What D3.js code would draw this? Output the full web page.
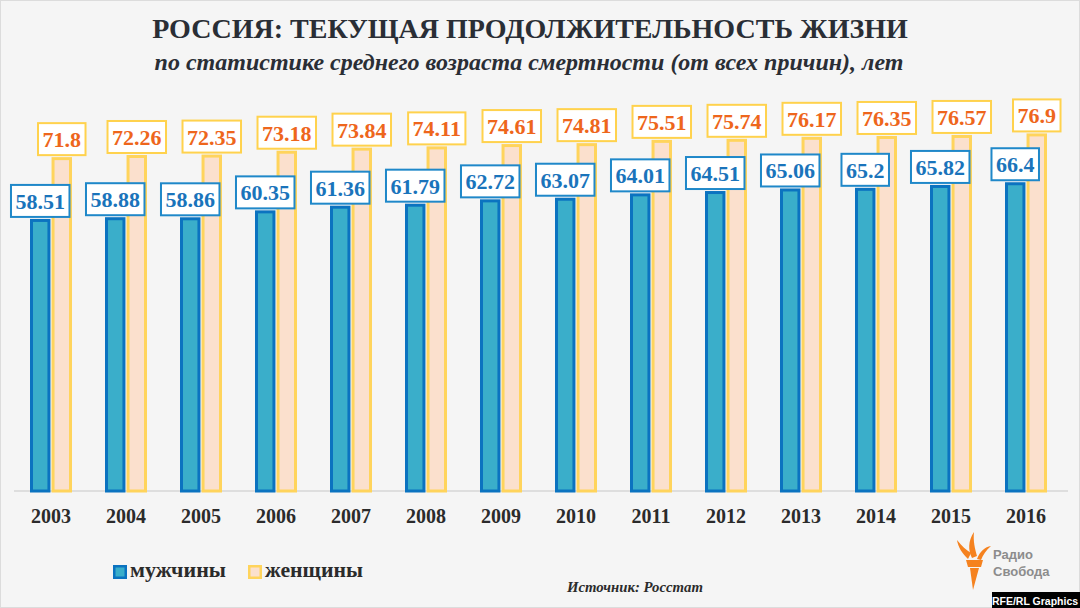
<!DOCTYPE html>
<html><head><meta charset="utf-8">
<script src="https://cdn.jsdelivr.net/npm/d3@7"></script>
<style>html,body{margin:0;padding:0;background:#f5f5f5}svg{display:block}</style>
</head><body><svg id="c" width="1080" height="608"></svg>
<script>
const years = ["2003","2004","2005","2006","2007","2008","2009","2010","2011","2012","2013","2014","2015","2016"];
const men = [58.51,58.88,58.86,60.35,61.36,61.79,62.72,63.07,64.01,64.51,65.06,65.2,65.82,66.4];
const women = [71.8,72.26,72.35,73.18,73.84,74.11,74.61,74.81,75.51,75.74,76.17,76.35,76.57,76.9];
const seriesNames = ["мужчины","женщины"];
const titleText = "РОССИЯ: ТЕКУЩАЯ ПРОДОЛЖИТЕЛЬНОСТЬ ЖИЗНИ";
const subtitleText = "по статистике среднего возраста смертности (от всех причин), лет";
const sourceText = "Источник: Росстат";

const svg = d3.select("#c");
const W = 1080, H = 608;
const serif = "'Liberation Serif','Times New Roman',serif";
const sans = "'Liberation Sans',Arial,sans-serif";
const col = {
  menFill:"#3aaeca", menStroke:"#0b73c0", menText:"#1a74bb", menBox:"#1f88c9",
  womFill:"#fbe0cd", womStroke:"#ffd45c", womText:"#ee661c", womBox:"#ffd24d"
};

function fit(sel, target, maxSize){
  const n = sel.node();
  const w = n.getComputedTextLength();
  const fs = +sel.attr("font-size");
  const nf = Math.min(maxSize, fs*target/w);
  sel.attr("font-size", nf.toFixed(2));
  return sel;
}

svg.append("rect").attr("x",0.5).attr("y",0.5).attr("width",W-1).attr("height",H-1)
  .attr("fill","#f5f5f5").attr("stroke","#dcdcdc");

// Title
fit(svg.append("text").attr("x",530).attr("y",38).attr("text-anchor","middle")
  .attr("font-family",serif).attr("font-weight","bold").attr("font-size",35)
  .attr("fill","#2a2e35").text(titleText), 756, 36);
fit(svg.append("text").attr("x",529).attr("y",70).attr("text-anchor","middle")
  .attr("font-family",serif).attr("font-weight","bold").attr("font-style","italic").attr("font-size",22)
  .attr("fill","#2a2e35").text(subtitleText), 749, 24);

// Scales
const x = d3.scaleBand().domain(years).range([13.5,1063.5]).padding(0);
const xs = d3.scaleBand().domain([0,1]).range([x.bandwidth()/2-21, x.bandwidth()/2+21]).paddingInner(0.05);
const y = d3.scaleLinear().domain([0,80]).range([491,491-80*4.65]);

// baseline
svg.append("line").attr("x1",14).attr("x2",1068).attr("y1",491).attr("y2",491)
  .attr("stroke","#dedede").attr("stroke-width",2);

const data = years.map((yr,i)=>({yr, vals:[men[i],women[i]]}));
const g = svg.selectAll("g.grp").data(data).join("g").attr("class","grp")
  .attr("transform",d=>`translate(${x(d.yr)},0)`);

const sw = 3;
g.selectAll("rect.bar").data(d=>d.vals.map((v,k)=>({v,k}))).join("rect").attr("class","bar")
  .attr("x",d=>xs(d.k)+sw/2).attr("width",xs.bandwidth()-sw)
  .attr("y",d=>y(d.v)+sw/2).attr("height",d=>y(0)-y(d.v)-sw/2)
  .attr("fill",d=>d.k===0?col.menFill:col.womFill)
  .attr("stroke",d=>d.k===0?col.menStroke:col.womStroke)
  .attr("stroke-width",sw);

// value labels
g.each(function(d){
  const gg = d3.select(this);
  d.vals.forEach((v,k)=>{
    const cx = xs(k)+xs.bandwidth()/2;
    const lg = gg.append("g");
    const t = lg.append("text").attr("x",cx).attr("y",y(v)-10)
      .attr("text-anchor","middle").attr("font-family",serif).attr("font-weight","bold")
      .attr("font-size",22).attr("fill",k===0?col.menText:col.womText).text(v);
    const bb = t.node().getBBox();
    const bw = bb.width+9, bh = 32;
    lg.insert("rect","text").attr("x",cx-bw/2).attr("y",y(v)-2-bh).attr("width",bw).attr("height",bh)
      .attr("fill","#ffffff").attr("stroke",k===0?col.menBox:col.womBox).attr("stroke-width",2);
  });
});

// x axis labels
svg.selectAll("text.yr").data(years).join("text").attr("class","yr")
  .attr("x",d=>x(d)+x.bandwidth()/2).attr("y",523).attr("text-anchor","middle")
  .attr("font-family",serif).attr("font-weight","bold").attr("font-size",20).attr("fill","#2b2b2b")
  .text(d=>d);

// legend
const legX = [113,248], legTL = [96,98];
seriesNames.forEach((s,k)=>{
  svg.append("rect").attr("x",legX[k]+1.25).attr("y",566.25).attr("width",11.5).attr("height",11.5)
    .attr("fill",k===0?col.menFill:col.womFill).attr("stroke",k===0?col.menStroke:col.womStroke)
    .attr("stroke-width",2.5);
  fit(svg.append("text").attr("x",legX[k]+17).attr("y",577).attr("font-family",serif).attr("font-weight","bold")
    .attr("font-size",22).attr("fill","#2b2b2b").text(s), legTL[k], 24);
});

// source
fit(svg.append("text").attr("x",567).attr("y",592).attr("font-family",serif).attr("font-weight","bold")
  .attr("font-style","italic").attr("font-size",16).attr("fill","#2b2b2b").text(sourceText), 136, 17);

// logo
const lg = svg.append("g").attr("fill","#f5821f");
lg.append("path").attr("d","M966,560 L983,560 L981,567 L968,567 Z");
lg.append("path").attr("d","M970,568 L979,568 L973,590 Z");
lg.append("path").attr("d","M968,559 C962,553 958,547 957,540 C962,546 966,550 971,553 Z");
lg.append("path").attr("d","M972,558 C968,550 968,541 974,532 C973,541 975,549 977,556 Z");
lg.append("path").attr("d","M977,559 C980,551 985,547 991,546 C986,550 983,555 981,560 Z");
svg.append("text").attr("x",993).attr("y",559).attr("font-family",sans).attr("font-weight","bold")
  .attr("font-size",13).attr("fill","#8c8c8c").text("Радио");
svg.append("text").attr("x",993).attr("y",576).attr("font-family",sans).attr("font-weight","bold")
  .attr("font-size",13).attr("fill","#8c8c8c").text("Свобода");
svg.append("rect").attr("x",992).attr("y",592).attr("width",88).attr("height",16).attr("fill","#000");
svg.append("text").attr("x",1035).attr("y",604.5).attr("text-anchor","middle").attr("font-family",sans)
  .attr("font-weight","bold").attr("font-size",10.5).attr("fill","#fff").text("RFE/RL Graphics");
</script></body></html>
